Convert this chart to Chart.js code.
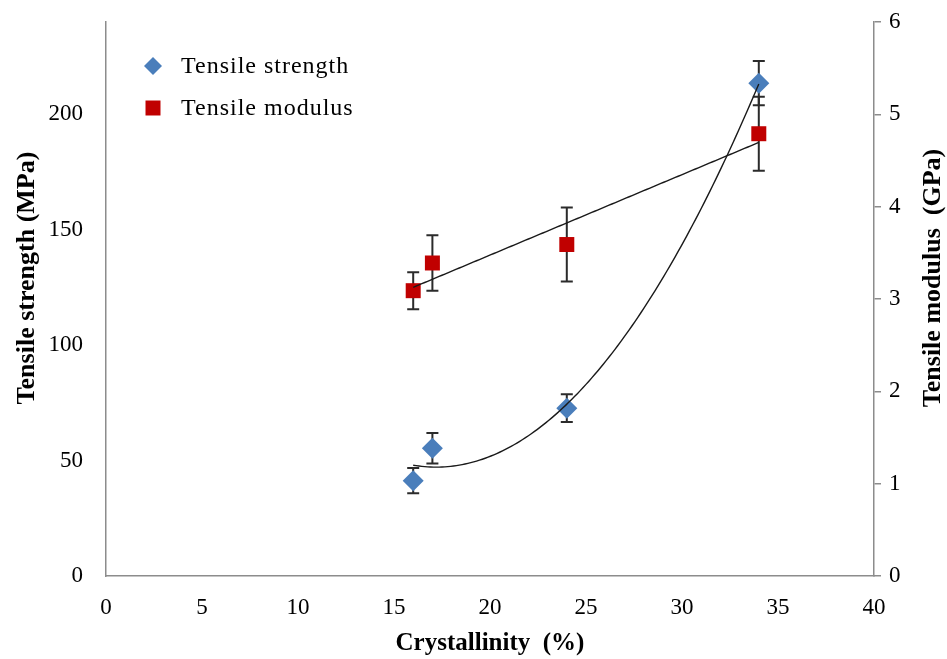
<!DOCTYPE html>
<html><head><meta charset="utf-8">
<script src="https://cdn.jsdelivr.net/npm/chart.js@4/dist/chart.umd.min.js"></script>
<style>html,body{margin:0;padding:0;background:#fff}#wrap{width:947px;height:659px;position:relative}</style>
</head><body><div id="wrap"><canvas id="c" width="947" height="659" style="width:947px;height:659px"></canvas></div>
<script>
// ---- data ----
const crystallinity = [16, 17, 24, 34];
const strengthMPa   = [41.3, 55.3, 72.7, 213.5];
const strengthErr   = [5.5, 6.6, 6.0, 9.6];
const modulusGPa    = [3.09, 3.39, 3.59, 4.79];
const modulusErr    = [0.2, 0.3, 0.4, 0.4];
const xTickValues        = [0, 5, 10, 15, 20, 25, 30, 35, 40];
const strengthTickValues = [0, 50, 100, 150, 200];
const modulusTickValues  = [0, 1, 2, 3, 4, 5, 6];
const seriesNames = ['Tensile strength', 'Tensile modulus'];
const xTitle = 'Crystallinity  (%)';
const yLeftTitle = 'Tensile strength (MPa)';
const yRightTitle = 'Tensile modulus  (GPa)';

// least-squares polynomial trend (like a spreadsheet trendline)
function polyfit(xs, ys, deg) {
  const n = deg + 1;
  const A = Array.from({length: n}, () => new Array(n + 1).fill(0));
  for (let r = 0; r < n; r++) {
    for (let c = 0; c < n; c++) A[r][c] = xs.reduce((s, x) => s + Math.pow(x, r + c), 0);
    A[r][n] = xs.reduce((s, x, i) => s + ys[i] * Math.pow(x, r), 0);
  }
  for (let i = 0; i < n; i++) {
    let p = i;
    for (let k = i + 1; k < n; k++) if (Math.abs(A[k][i]) > Math.abs(A[p][i])) p = k;
    [A[i], A[p]] = [A[p], A[i]];
    for (let k = i + 1; k < n; k++) {
      const f = A[k][i] / A[i][i];
      for (let j = i; j <= n; j++) A[k][j] -= f * A[i][j];
    }
  }
  const coef = new Array(n).fill(0);
  for (let i = n - 1; i >= 0; i--) {
    let s = A[i][n];
    for (let j = i + 1; j < n; j++) s -= A[i][j] * coef[j];
    coef[i] = s / A[i][i];
  }
  return x => coef.reduce((s, c, i) => s + c * Math.pow(x, i), 0);
}
function trendPoints(xs, ys, deg) {
  const f = polyfit(xs, ys, deg);
  const lo = Math.min(...xs), hi = Math.max(...xs), pts = [];
  const steps = 120;
  for (let i = 0; i <= steps; i++) { const x = lo + (hi - lo) * i / steps; pts.push({x, y: f(x)}); }
  return pts;
}

const FONT = "'Liberation Serif', 'Times New Roman', serif";
const AXIS_GRAY = '#8c8c8c';

const errorBarPlugin = {
  id: 'errorBars',
  beforeDatasetsDraw(chart) {
    const ctx = chart.ctx, xs = chart.scales.x;
    const groups = [[chart.scales.y, strengthMPa, strengthErr], [chart.scales.y2, modulusGPa, modulusErr]];
    ctx.save();
    ctx.strokeStyle = '#2b2b2b';
    ctx.lineWidth = 2;
    groups.forEach(([ys, vals, errs]) => {
      crystallinity.forEach((xv, i) => {
        const px = xs.getPixelForValue(xv);
        const top = ys.getPixelForValue(vals[i] + errs[i]);
        const bot = ys.getPixelForValue(vals[i] - errs[i]);
        ctx.beginPath();
        ctx.moveTo(px, top); ctx.lineTo(px, bot);
        ctx.moveTo(px - 6, top); ctx.lineTo(px + 6, top);
        ctx.moveTo(px - 6, bot); ctx.lineTo(px + 6, bot);
        ctx.stroke();
      });
    });
    ctx.restore();
  }
};

const customTextPlugin = {
  id: 'customText',
  afterDraw(chart) {
    const ctx = chart.ctx;
    ctx.save();
    ctx.fillStyle = '#000';
    ctx.font = "bold 26px " + FONT;
    ctx.textAlign = 'center';
    ctx.textBaseline = 'middle';
    const cy = 278;
    ctx.save(); ctx.translate(27, cy); ctx.rotate(-Math.PI / 2); ctx.fillText(yLeftTitle, 0, 0); ctx.restore();
    ctx.save(); ctx.translate(933, cy); ctx.rotate(-Math.PI / 2); ctx.fillText(yRightTitle, 0, 0); ctx.restore();
    // legend
    const items = [chart.data.datasets[2], chart.data.datasets[3]];
    ctx.font = "24px " + FONT;
    try { ctx.letterSpacing = '1px'; } catch (e) {}
    ctx.textAlign = 'left';
    items.forEach((ds, i) => {
      const mx = 153, my = 66 + i * 42;
      ctx.fillStyle = ds.backgroundColor;
      ctx.strokeStyle = ds.backgroundColor;
      Chart.helpers.drawPoint(ctx, {pointStyle: ds.pointStyle, radius: i === 0 ? 9 : 10.6, borderWidth: 0}, mx, my);
      ctx.fillStyle = '#000';
      ctx.fillText(ds.label, 181, my + 1);
    });
    ctx.restore();
  }
};

const fixedSize = (w, h) => (scale) => {
  if (w !== null) scale.width = w;
  if (h !== null) scale.height = h;
  scale.paddingTop = 0; scale.paddingBottom = 0; scale.paddingLeft = 0; scale.paddingRight = 0;
};

new Chart(document.getElementById('c'), {
  type: 'scatter',
  data: {
    datasets: [
      { label: 'trend-strength', data: trendPoints(crystallinity, strengthMPa, 2), yAxisID: 'y',
        showLine: true, pointRadius: 0, borderColor: '#1a1a1a', borderWidth: 1.4, fill: false, tension: 0 },
      { label: 'trend-modulus', data: trendPoints(crystallinity, modulusGPa, 1), yAxisID: 'y2',
        showLine: true, pointRadius: 0, borderColor: '#1a1a1a', borderWidth: 1.4, fill: false, tension: 0 },
      { label: seriesNames[0], data: crystallinity.map((x, i) => ({x, y: strengthMPa[i]})), yAxisID: 'y',
        pointStyle: 'rectRot', pointRadius: 10.5, backgroundColor: '#4a7ebb', borderColor: '#4a7ebb', borderWidth: 0 },
      { label: seriesNames[1], data: crystallinity.map((x, i) => ({x, y: modulusGPa[i]})), yAxisID: 'y2',
        pointStyle: 'rect', pointRadius: 10.6, backgroundColor: '#c00000', borderColor: '#c00000', borderWidth: 0 }
    ]
  },
  options: {
    responsive: false,
    maintainAspectRatio: false,
    animation: false,
    devicePixelRatio: 1,
    layout: { autoPadding: false, padding: { top: 22, left: 0, right: 0, bottom: 0 } },
    plugins: { legend: { display: false }, tooltip: { enabled: false } },
    elements: { point: { hoverRadius: 10.5 } },
    scales: {
      x: {
        type: 'linear', position: 'bottom', min: 0, max: 40,
        afterBuildTicks: s => { s.ticks = xTickValues.map(v => ({value: v})); },
        afterFit: fixedSize(null, 83),
        ticks: { color: '#000', font: { family: FONT, size: 23 }, padding: 18, maxRotation: 0 },
        grid: { display: true, drawOnChartArea: false, drawTicks: false },
        border: { display: true, color: AXIS_GRAY, width: 1.5 },
        title: { display: true, text: xTitle, color: '#000', font: { family: FONT, size: 25, weight: 'bold' }, padding: { top: 0, bottom: 0 } }
      },
      y: {
        type: 'linear', position: 'left', min: 0, max: 240,
        afterBuildTicks: s => { s.ticks = strengthTickValues.map(v => ({value: v})); },
        afterFit: fixedSize(106, null),
        ticks: { color: '#000', font: { family: FONT, size: 23 }, padding: 23 },
        grid: { display: true, drawOnChartArea: false, drawTicks: false },
        border: { display: true, color: AXIS_GRAY, width: 1.5 }
      },
      y2: {
        type: 'linear', position: 'right', min: 0, max: 6,
        afterBuildTicks: s => { s.ticks = modulusTickValues.map(v => ({value: v})); },
        afterFit: fixedSize(73, null),
        ticks: { color: '#000', font: { family: FONT, size: 23 }, padding: 8 },
        grid: { display: true, drawOnChartArea: false, drawTicks: true, tickLength: 7, color: AXIS_GRAY, tickColor: AXIS_GRAY, lineWidth: 1.5 },
        border: { display: true, color: AXIS_GRAY, width: 1.5 }
      }
    }
  },
  plugins: [errorBarPlugin, customTextPlugin]
});
</script>
</body></html>
